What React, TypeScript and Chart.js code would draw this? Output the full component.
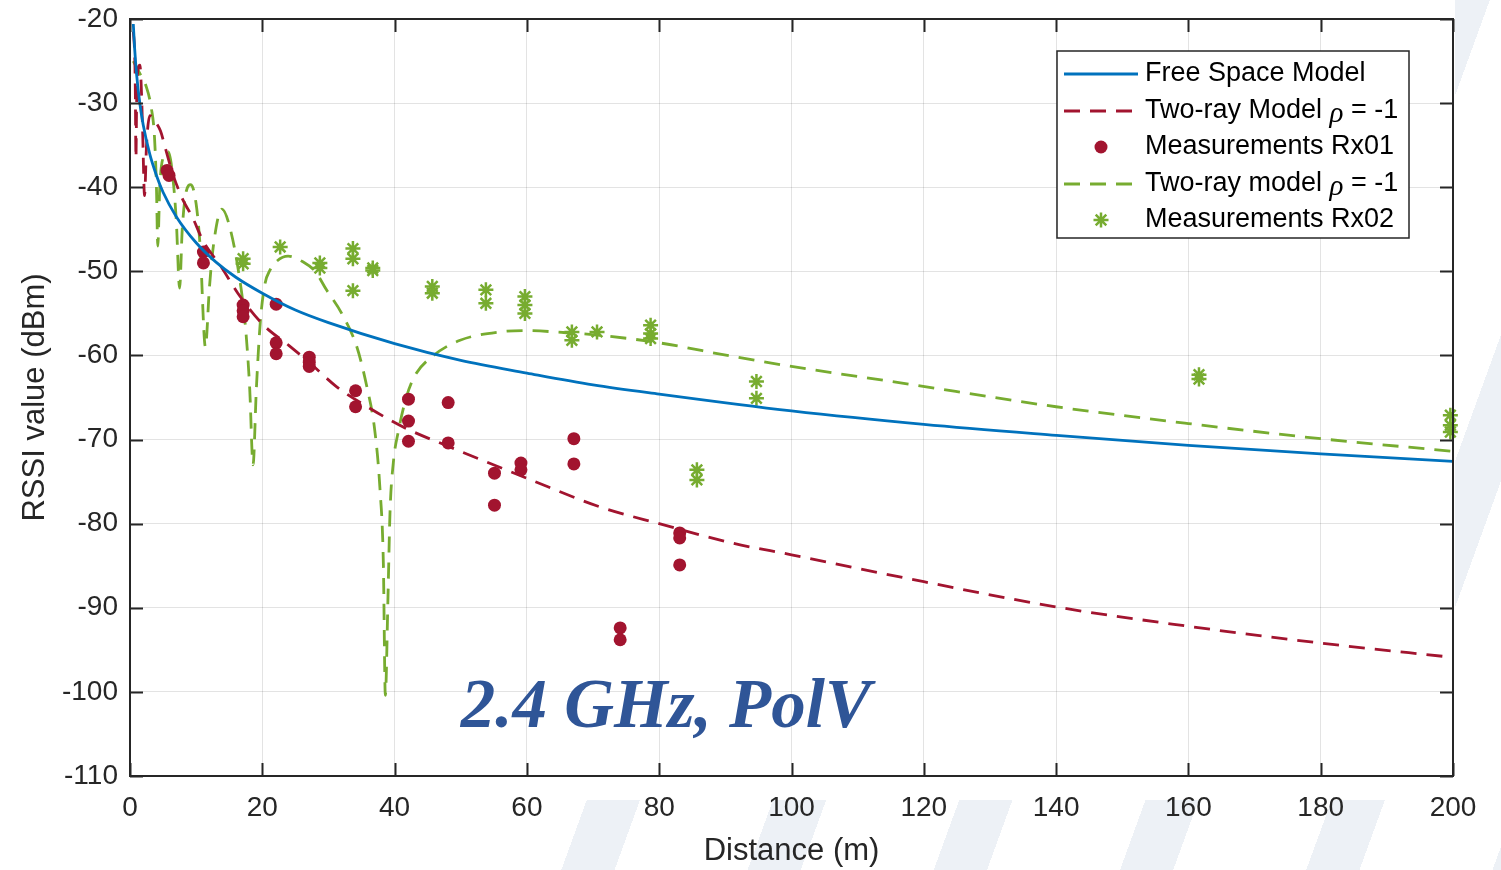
import React, { useEffect, useRef } from 'react';
import { Chart, registerables } from 'chart.js';

Chart.register(...registerables);

// ---------- data ----------
const xTickValues = [0, 20, 40, 60, 80, 100, 120, 140, 160, 180, 200];
const yTickValues = [-110, -100, -90, -80, -70, -60, -50, -40, -30, -20];

const freeSpaceDist = [0.5, 0.7, 1, 1.5, 2, 3, 4, 5, 7, 10, 13, 16, 20, 25, 30, 40, 50, 60, 70, 80, 100, 120, 140, 160, 180, 200];
const freeSpaceRssi = [-20.6, -23.5, -26.6, -30.1, -32.6, -36.1, -38.6, -40.6, -43.5, -46.6, -48.9, -50.7, -52.6, -54.6, -56.1, -58.6, -60.6, -62.1, -63.5, -64.6, -66.6, -68.2, -69.5, -70.7, -71.7, -72.6];

const twoRayRx01Dist = [0.5, 0.7, 0.8, 0.9, 1.0, 1.2, 1.5, 1.7, 1.9, 2.2, 2.5, 3.0, 3.8, 4.6, 5.4, 6.5, 8.0, 9.4, 11.0, 13.9, 16.3, 20.2, 24, 27.2, 31.2, 36.3, 41.8, 48.1, 60, 71, 80, 91, 100, 120, 140, 160, 180, 200];
const twoRayRx01Rssi = [-21.5, -24, -28, -36.5, -30, -26, -25.5, -28, -33, -41, -35, -31.5, -32.2, -33.3, -35.5, -38.5, -41.5, -43.5, -46.3, -49.6, -52.6, -56.4, -58.8, -60.9, -63.7, -66.3, -68.7, -70.8, -74.6, -78.0, -80.0, -82.3, -83.7, -86.9, -89.9, -92.2, -94.2, -95.9];

const twoRayRx02Dist = [0.5, 1.5, 2.4, 3.2, 3.7, 4.0, 4.2, 4.5, 5.0, 5.8, 6.5, 7.0, 7.5, 7.9, 8.5, 9.2, 10.0, 10.6, 11.4, 12.0, 12.6, 13.9, 15.0, 16.6, 17.5, 18.1, 18.6, 19.1, 19.7, 20.4, 21.2, 21.9, 23.9, 26.2, 28.0, 29.7, 32.0, 34.3, 35.8, 37.0, 37.8, 38.3, 38.6, 39.0, 39.3, 39.8, 40.6, 41.8, 43.0, 45.9, 49.9, 55.9, 60, 66, 71, 80, 91, 100, 116, 140, 160, 180, 200];
const twoRayRx02Rssi = [-25, -26.5, -27.9, -30.5, -34, -40, -47, -40, -36.5, -35.8, -39, -44, -52, -45, -40.5, -39.7, -42, -47, -59, -52, -47, -42.6, -44.5, -51, -57, -64, -73, -64, -56, -51.5, -49.8, -49, -48.2, -48.9, -50, -52.2, -55, -59, -63.7, -68.9, -76, -84.7, -100.4, -88.7, -78.8, -72.8, -68.9, -64.9, -62.5, -60, -58.2, -57.2, -57.05, -57.3, -57.6, -58.5, -60.1, -61.3, -63.2, -66.1, -68.1, -69.9, -71.4];

const rx01Dist = [5.6, 5.9, 11.1, 11.1, 17.1, 17.1, 17.1, 22.1, 22.1, 22.1, 27.1, 27.1, 27.1, 34.1, 34.1, 42.1, 42.1, 42.1, 48.1, 48.1, 55.1, 55.1, 59.1, 59.1, 67.1, 67.1, 74.1, 74.1, 83.1, 83.1, 83.1];
const rx01Rssi = [-38.0, -38.6, -47.7, -49.0, -54.0, -54.7, -55.4, -53.9, -58.5, -59.8, -60.2, -60.8, -61.3, -64.2, -66.1, -65.2, -67.8, -70.2, -65.6, -70.4, -74.0, -77.8, -72.8, -73.6, -69.9, -72.9, -92.4, -93.8, -81.1, -81.7, -84.9];

const rx02Dist = [17.1, 17.1, 22.7, 28.7, 28.7, 33.7, 33.7, 33.7, 36.7, 36.7, 45.7, 45.7, 53.8, 53.8, 59.7, 59.7, 59.7, 66.8, 66.8, 70.6, 78.7, 78.7, 78.7, 85.7, 85.7, 94.7, 94.7, 161.6, 161.6, 199.6, 199.6, 199.6];
const rx02Rssi = [-48.5, -49.1, -47.1, -49.0, -49.6, -47.3, -48.5, -52.3, -49.6, -49.9, -51.8, -52.6, -52.2, -53.8, -53.0, -54.0, -55.0, -57.2, -58.2, -57.2, -56.4, -57.4, -58.0, -73.6, -74.8, -63.1, -65.1, -62.3, -62.8, -67.1, -68.3, -69.1];

const legendLabels = ['Free Space Model', 'Two-ray Model ', 'Measurements Rx01', 'Two-ray model ', 'Measurements Rx02'];
const annotationText = '2.4 GHz, PolV';

// ---------- styling ----------
const BLUE = '#0072BD';
const RED = '#A2142F';
const GREEN = '#77AC30';
const AXIS = '#262626';
const SANS = '"Liberation Sans", Arial, sans-serif';
const SERIF = '"Liberation Serif", "Times New Roman", serif';
const DASH = [16, 10];
const STRIPES = 'repeating-linear-gradient(110deg, rgba(255,255,255,0) 0px, rgba(255,255,255,0) 125px, #EDF1F6 125px, #EDF1F6 175px)';

const toXY = (xs: number[], ys: number[]) => xs.map((x, i) => ({ x, y: ys[i] }));

function drawStar(ctx: CanvasRenderingContext2D, cx: number, cy: number, r: number) {
  ctx.beginPath();
  for (let k = 0; k < 4; k++) {
    const a = (k * Math.PI) / 4;
    ctx.moveTo(cx - r * Math.sin(a), cy - r * Math.cos(a));
    ctx.lineTo(cx + r * Math.sin(a), cy + r * Math.cos(a));
  }
  ctx.stroke();
}

const overlayPlugin = {
  id: 'overlay',
  beforeDraw(chart: any) {
    const { ctx, chartArea } = chart;
    ctx.save();
    ctx.fillStyle = '#ffffff';
    ctx.fillRect(chartArea.left, chartArea.top, chartArea.right - chartArea.left, chartArea.bottom - chartArea.top);
    ctx.restore();
  },
  afterDatasetsDraw(chart: any) {
    const { ctx, chartArea, scales } = chart;
    const { left, right, top, bottom } = chartArea;
    const xs = scales.x;
    const ys = scales.y;
    ctx.save();

    // annotation text
    ctx.font = `italic bold 69px ${SERIF}`;
    ctx.fillStyle = '#2F5597';
    ctx.textBaseline = 'alphabetic';
    ctx.textAlign = 'left';
    ctx.fillText(annotationText, xs.getPixelForValue(50), ys.getPixelForValue(-104.2));

    // axes box + inward ticks
    ctx.strokeStyle = AXIS;
    ctx.lineWidth = 2;
    ctx.setLineDash([]);
    const tl = 13;
    ctx.beginPath();
    xTickValues.forEach((v) => {
      const px = Math.round(xs.getPixelForValue(v)) + 0.5;
      ctx.moveTo(px, bottom);
      ctx.lineTo(px, bottom - tl);
      ctx.moveTo(px, top);
      ctx.lineTo(px, top + tl);
    });
    yTickValues.forEach((v) => {
      const py = Math.round(ys.getPixelForValue(v)) + 0.5;
      ctx.moveTo(left, py);
      ctx.lineTo(left + tl, py);
      ctx.moveTo(right, py);
      ctx.lineTo(right - tl, py);
    });
    ctx.stroke();
    ctx.strokeRect(left, top, right - left, bottom - top);

    // legend
    const bw = 352;
    const bh = 187;
    const bx = right - 44 - bw;
    const by = top + 32;
    ctx.fillStyle = '#ffffff';
    ctx.fillRect(bx, by, bw, bh);
    ctx.lineWidth = 1.5;
    ctx.strokeStyle = AXIS;
    ctx.strokeRect(bx, by, bw, bh);

    const rowY = [23, 60, 96, 133, 169].map((d) => by + d);
    const sx0 = bx + 7;
    const sx1 = bx + 81;
    const mx = bx + 44;
    const tx = bx + 88;

    // samples
    ctx.lineWidth = 2.8;
    ctx.strokeStyle = BLUE;
    ctx.setLineDash([]);
    ctx.beginPath(); ctx.moveTo(sx0, rowY[0]); ctx.lineTo(sx1, rowY[0]); ctx.stroke();
    ctx.strokeStyle = RED;
    ctx.setLineDash(DASH);
    ctx.beginPath(); ctx.moveTo(sx0, rowY[1]); ctx.lineTo(sx1, rowY[1]); ctx.stroke();
    ctx.strokeStyle = GREEN;
    ctx.beginPath(); ctx.moveTo(sx0, rowY[3]); ctx.lineTo(sx1, rowY[3]); ctx.stroke();
    ctx.setLineDash([]);
    ctx.fillStyle = RED;
    ctx.beginPath(); ctx.arc(mx, rowY[2], 6.5, 0, Math.PI * 2); ctx.fill();
    ctx.strokeStyle = GREEN;
    ctx.lineWidth = 2.5;
    drawStar(ctx, mx, rowY[4], 7.5);

    // texts
    ctx.fillStyle = '#000000';
    ctx.textBaseline = 'middle';
    ctx.textAlign = 'left';
    legendLabels.forEach((label, i) => {
      ctx.font = `27px ${SANS}`;
      ctx.fillText(label, tx, rowY[i]);
      if (i === 1 || i === 3) {
        let w = ctx.measureText(label).width;
        ctx.font = `italic 29px ${SERIF}`;
        ctx.fillText('\u03C1', tx + w, rowY[i] + 3);
        w += ctx.measureText('\u03C1').width;
        ctx.font = `27px ${SANS}`;
        ctx.fillText(' = -1', tx + w, rowY[i]);
      }
    });

    ctx.restore();
  },
};

function StripeBand(props: { left: number; top: number; width: number; height: number }) {
  const { left, top, width, height } = props;
  return (
    <div
      style={{
        position: 'absolute',
        left,
        top,
        width,
        height,
        backgroundImage: STRIPES,
        backgroundSize: '1501px 870px',
        backgroundPosition: `${-left}px ${-top}px`,
        backgroundRepeat: 'no-repeat',
      }}
    />
  );
}

export default function App() {
  const canvasRef = useRef<HTMLCanvasElement | null>(null);

  useEffect(() => {
    document.body.style.margin = '0';
    const canvas = canvasRef.current;
    if (!canvas) return;
    const chart = new Chart(canvas, {
      type: 'scatter',
      data: {
        datasets: [
          {
            label: 'Free Space Model',
            data: toXY(freeSpaceDist, freeSpaceRssi),
            showLine: true,
            borderColor: BLUE,
            borderWidth: 2.8,
            pointRadius: 0,
            cubicInterpolationMode: 'monotone',
          },
          {
            label: 'Two-ray Model ρ = -1',
            data: toXY(twoRayRx01Dist, twoRayRx01Rssi),
            showLine: true,
            borderColor: RED,
            borderWidth: 2.8,
            borderDash: DASH,
            pointRadius: 0,
            cubicInterpolationMode: 'monotone',
          },
          {
            label: 'Measurements Rx01',
            data: toXY(rx01Dist, rx01Rssi),
            showLine: false,
            pointStyle: 'circle',
            pointRadius: 6.5,
            backgroundColor: RED,
            borderColor: RED,
            borderWidth: 0,
            clip: false,
          },
          {
            label: 'Two-ray model ρ = -1',
            data: toXY(twoRayRx02Dist, twoRayRx02Rssi),
            showLine: true,
            borderColor: GREEN,
            borderWidth: 2.8,
            borderDash: DASH,
            pointRadius: 0,
            cubicInterpolationMode: 'monotone',
          },
          {
            label: 'Measurements Rx02',
            data: toXY(rx02Dist, rx02Rssi),
            showLine: false,
            pointStyle: 'star',
            pointRadius: 7.5,
            borderColor: GREEN,
            backgroundColor: GREEN,
            borderWidth: 2.5,
            clip: false,
          },
        ],
      },
      options: {
        animation: false,
        responsive: false,
        devicePixelRatio: 1,
        layout: { padding: { top: 19, right: 48, left: 0, bottom: 0 } },
        plugins: {
          legend: { display: false },
          tooltip: { enabled: false },
        },
        scales: {
          x: {
            type: 'linear',
            min: 0,
            max: 200,
            afterFit: (s: any) => { s.height = 94; s.paddingLeft = 0; s.paddingRight = 0; },
            afterBuildTicks: (s: any) => { s.ticks = xTickValues.map((v) => ({ value: v })); },
            ticks: { color: AXIS, font: { family: SANS, size: 28 }, padding: 15, maxRotation: 0 },
            grid: { color: 'rgba(0,0,0,0.11)', lineWidth: 1, drawTicks: false },
            border: { display: false },
            title: { display: true, text: 'Distance (m)', color: AXIS, font: { family: SANS, size: 31 }, padding: { top: 0, bottom: 0 } },
          },
          y: {
            type: 'linear',
            min: -110,
            max: -20,
            afterFit: (s: any) => { s.width = 130; s.paddingTop = 0; s.paddingBottom = 0; },
            afterBuildTicks: (s: any) => { s.ticks = yTickValues.map((v) => ({ value: v })); },
            ticks: { color: AXIS, font: { family: SANS, size: 28 }, padding: 12 },
            grid: { color: 'rgba(0,0,0,0.11)', lineWidth: 1, drawTicks: false },
            border: { display: false },
            title: { display: true, text: 'RSSI value (dBm)', color: AXIS, font: { family: SANS, size: 31 }, padding: { top: 17, bottom: 0 } },
          },
        },
      },
      plugins: [overlayPlugin],
    });
    return () => chart.destroy();
  }, []);

  return (
    <div style={{ position: 'absolute', left: 0, top: 0, width: 1501, height: 870, background: '#ffffff', overflow: 'hidden' }}>
      <StripeBand left={1455} top={0} width={46} height={870} />
      <StripeBand left={560} top={800} width={941} height={70} />
      <canvas ref={canvasRef} width={1501} height={870} style={{ display: 'block', position: 'absolute', left: 0, top: 0 }} />
    </div>
  );
}
